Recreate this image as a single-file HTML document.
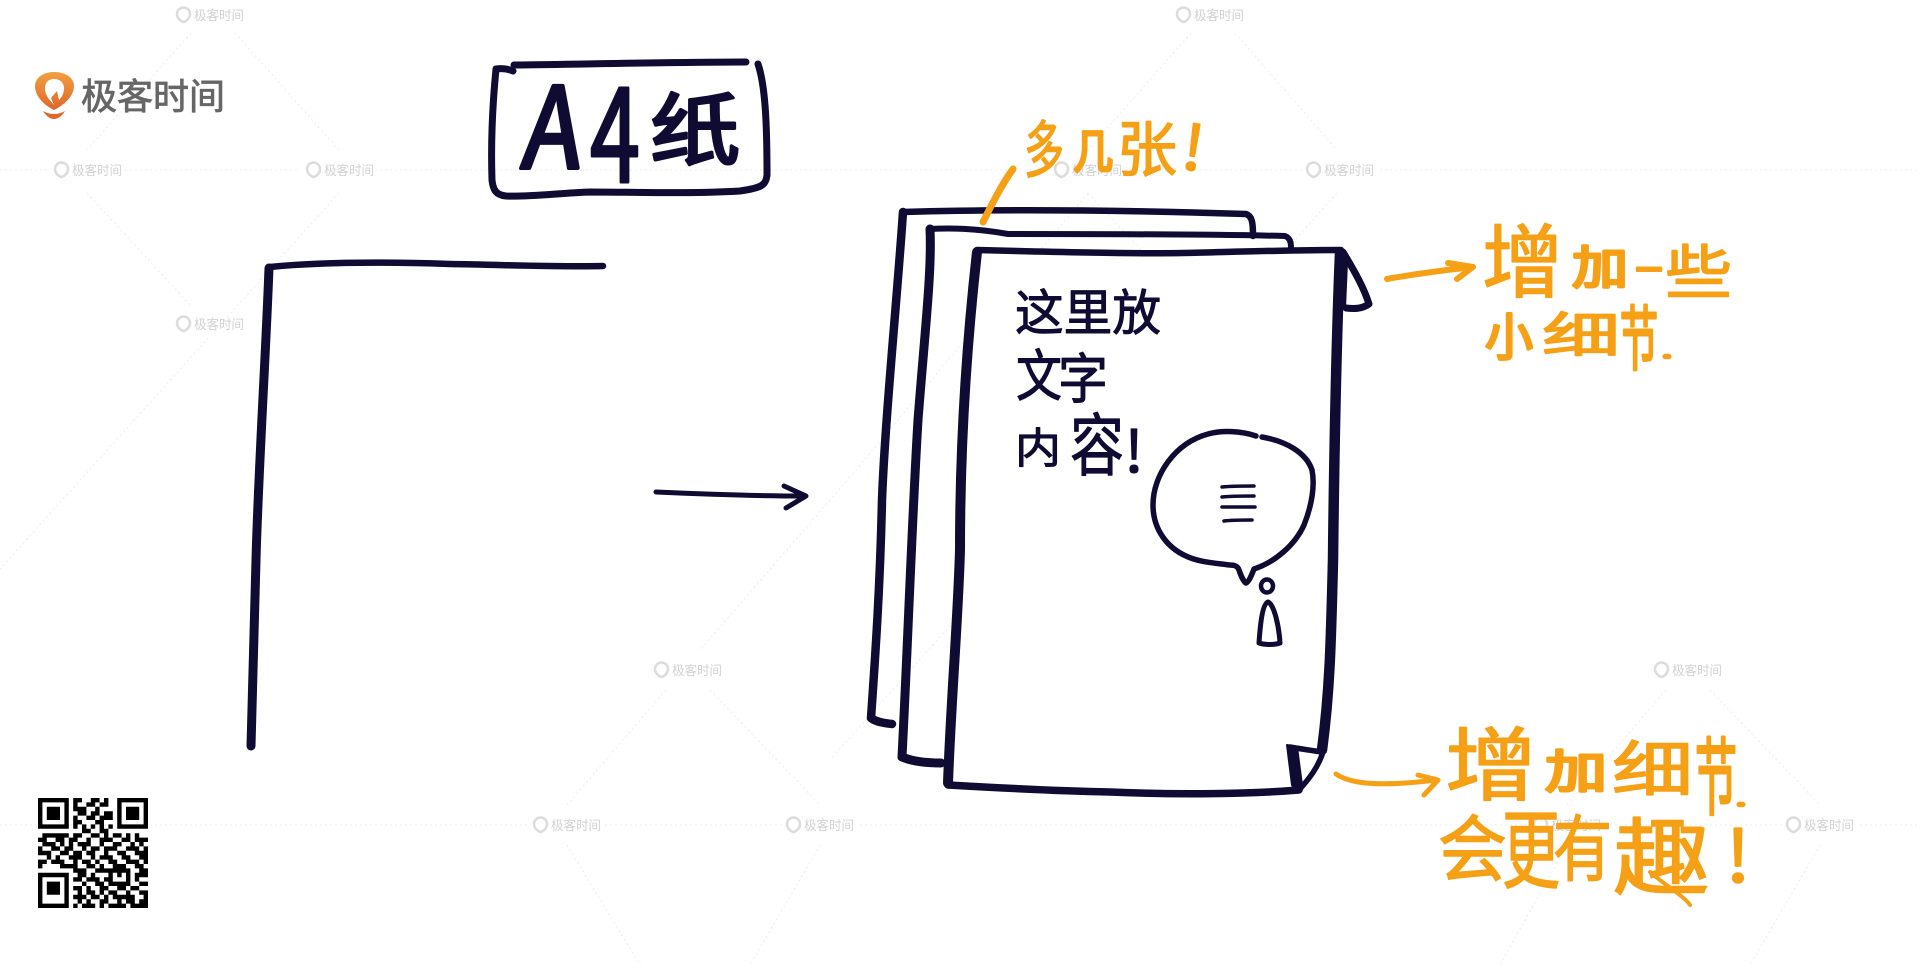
<!DOCTYPE html>
<html lang="zh">
<head>
<meta charset="utf-8">
<title>A4纸</title>
<style>
html,body{margin:0;padding:0;background:#fff;width:1920px;height:965px;overflow:hidden}
svg{display:block}
text{font-family:"Noto Sans CJK SC","WenQuanYi Zen Hei",sans-serif}
.n{fill:#0f0b33;stroke:#0f0b33;stroke-linejoin:round;stroke-linecap:round}
.o{fill:#f5a015;stroke:#f5a015;stroke-width:1.500;stroke-linejoin:round;stroke-linecap:round}
.s{stroke-width:3}
.l{fill:none;stroke:#0f0b33;stroke-linecap:round;stroke-linejoin:round}
.a{fill:none;stroke:#f5a015;stroke-linecap:round;stroke-linejoin:round}
.w{fill:#d2d2d2;font-size:13px}
.wi{fill:none;stroke:#dcdcdc;stroke-width:2.5}
.d{fill:none;stroke:#ececec;stroke-width:1;stroke-dasharray:2 3}
</style>
</head>
<body>
<svg width="1920" height="965" viewBox="0 0 1920 965" xmlns="http://www.w3.org/2000/svg">
<defs>
<linearGradient id="lg" x1="0" y1="0" x2="0" y2="1"><stop offset="0" stop-color="#f0a040"/><stop offset="1" stop-color="#e0662a"/></linearGradient>
</defs>
<rect width="1920" height="965" fill="#fff"/>

<!-- background dotted pattern -->
<path class="d" d="M0 170H50M125 170H297M375 170H1050M1125 170H1302M1380 170H1920M0 825H530M605 825H782M860 825H1530M1605 825H1782M1860 825H1920"/>
<path class="d" d="M191 33L87 150M235 33L339 150M87 193L190 305M339 193L0 569M1191 33L1088 150M1235 33L1337 150M1088 193L1190 303M1337 193L830 760M1088 193L850 477M850 477L700 650M666 690L567 805M710 690L820 805M1666 690L1567 805M1710 690L1820 805M1567 845L1500 965M1820 845L1750 965M567 845L640 965M820 845L750 965"/>

<!-- watermarks -->
<g id="wm">
<g transform="translate(176,7)"><path class="wi" d="M7 15C3 13 1 10 1 7A6.500 6.500 0 0 1 14 7C14 10 12 13 8 15Z"/><text class="w" x="18" y="13" textLength="50" lengthAdjust="spacingAndGlyphs">极客时间</text></g>
<g transform="translate(1176,7)"><path class="wi" d="M7 15C3 13 1 10 1 7A6.500 6.500 0 0 1 14 7C14 10 12 13 8 15Z"/><text class="w" x="18" y="13" textLength="50" lengthAdjust="spacingAndGlyphs">极客时间</text></g>
<g transform="translate(54,162)"><path class="wi" d="M7 15C3 13 1 10 1 7A6.500 6.500 0 0 1 14 7C14 10 12 13 8 15Z"/><text class="w" x="18" y="13" textLength="50" lengthAdjust="spacingAndGlyphs">极客时间</text></g>
<g transform="translate(306,162)"><path class="wi" d="M7 15C3 13 1 10 1 7A6.500 6.500 0 0 1 14 7C14 10 12 13 8 15Z"/><text class="w" x="18" y="13" textLength="50" lengthAdjust="spacingAndGlyphs">极客时间</text></g>
<g transform="translate(1054,162)"><path class="wi" d="M7 15C3 13 1 10 1 7A6.500 6.500 0 0 1 14 7C14 10 12 13 8 15Z"/><text class="w" x="18" y="13" textLength="50" lengthAdjust="spacingAndGlyphs">极客时间</text></g>
<g transform="translate(1306,162)"><path class="wi" d="M7 15C3 13 1 10 1 7A6.500 6.500 0 0 1 14 7C14 10 12 13 8 15Z"/><text class="w" x="18" y="13" textLength="50" lengthAdjust="spacingAndGlyphs">极客时间</text></g>
<g transform="translate(176,316)"><path class="wi" d="M7 15C3 13 1 10 1 7A6.500 6.500 0 0 1 14 7C14 10 12 13 8 15Z"/><text class="w" x="18" y="13" textLength="50" lengthAdjust="spacingAndGlyphs">极客时间</text></g>
<g transform="translate(1176,316)"><path class="wi" d="M7 15C3 13 1 10 1 7A6.500 6.500 0 0 1 14 7C14 10 12 13 8 15Z"/><text class="w" x="18" y="13" textLength="50" lengthAdjust="spacingAndGlyphs">极客时间</text></g>
<g transform="translate(654,662)"><path class="wi" d="M7 15C3 13 1 10 1 7A6.500 6.500 0 0 1 14 7C14 10 12 13 8 15Z"/><text class="w" x="18" y="13" textLength="50" lengthAdjust="spacingAndGlyphs">极客时间</text></g>
<g transform="translate(1654,662)"><path class="wi" d="M7 15C3 13 1 10 1 7A6.500 6.500 0 0 1 14 7C14 10 12 13 8 15Z"/><text class="w" x="18" y="13" textLength="50" lengthAdjust="spacingAndGlyphs">极客时间</text></g>
<g transform="translate(533,817)"><path class="wi" d="M7 15C3 13 1 10 1 7A6.500 6.500 0 0 1 14 7C14 10 12 13 8 15Z"/><text class="w" x="18" y="13" textLength="50" lengthAdjust="spacingAndGlyphs">极客时间</text></g>
<g transform="translate(786,817)"><path class="wi" d="M7 15C3 13 1 10 1 7A6.500 6.500 0 0 1 14 7C14 10 12 13 8 15Z"/><text class="w" x="18" y="13" textLength="50" lengthAdjust="spacingAndGlyphs">极客时间</text></g>
<g transform="translate(1533,817)"><path class="wi" d="M7 15C3 13 1 10 1 7A6.500 6.500 0 0 1 14 7C14 10 12 13 8 15Z"/><text class="w" x="18" y="13" textLength="50" lengthAdjust="spacingAndGlyphs">极客时间</text></g>
<g transform="translate(1786,817)"><path class="wi" d="M7 15C3 13 1 10 1 7A6.500 6.500 0 0 1 14 7C14 10 12 13 8 15Z"/><text class="w" x="18" y="13" textLength="50" lengthAdjust="spacingAndGlyphs">极客时间</text></g>
</g>

<!-- logo -->
<path d="M54 110C42 104 35 95 35 86C35 78 43 72 54 72C66 72 74 78 74 86C74 95 66 104 54 110Z" fill="url(#lg)"/>
<path d="M54 105C50 100 45 96 45 88C45 82 49 79 54 79C60 79 64 83 64 88C64 93 62 97 59 100L57 91L51 98L54 105Z" fill="#fff"/>
<path d="M43 111Q54 117 65 111Q60 119 54 119Q48 119 43 111Z" fill="#e0662a"/>
<text x="81" y="109" font-size="36" fill="#666" stroke="#666" stroke-width=".8" textLength="144" lengthAdjust="spacingAndGlyphs">极客时间</text>

<!-- A4 box -->
<path class="l" stroke-width="7" d="M514 65C590 64 680 62 746 62M758 64C765 85 767 120 767 175C766 186 760 188 740 191C690 194 630 192 590 192C560 193 530 197 506 196C496 195 493 190 492 180C491 150 492 110 496 69C502 68 508 69 513 71"/>
<text class="n" stroke-width="4" x="520" y="168" font-size="112" textLength="58" lengthAdjust="spacingAndGlyphs" transform="skewX(-6) translate(18,0)">A</text>
<text class="n" stroke-width="3" x="590" y="182" font-size="128" textLength="50" lengthAdjust="spacingAndGlyphs">4</text>
<text class="n" stroke-width="3" x="650" y="158" font-size="78" textLength="90" lengthAdjust="spacingAndGlyphs">纸</text>

<!-- left blank sheet -->
<path class="l" stroke-width="6.500" d="M603 266C560 267 510 265 450 264C390 262 320 262 270 267"/>
<path class="l" stroke-width="9" d="M269 268C266 350 258 480 256 560C254 630 252 700 251 746"/>

<!-- arrow -->
<path class="l" stroke-width="5" d="M656 492C700 494 750 496 804 496M784 486L806 496L786 508"/>

<!-- back sheet -->
<path class="l" stroke-width="6.500" d="M903 212C1000 209 1120 210 1246 214C1252 216 1253 222 1253 236"/>
<path class="l" stroke-width="8.500" d="M903 212C897 300 885 420 882 500C880 590 875 660 871 718C876 722 884 723 892 724"/>
<!-- middle sheet -->
<path class="l" stroke-width="6" d="M929 229C950 228 975 228 1008 234C1100 234 1200 234 1285 236C1290 238 1291 242 1291 248"/>
<path class="l" stroke-width="9" d="M930 229C932 270 925 330 918 420C912 520 908 640 902 757C914 762 928 763 941 763"/>

<!-- front sheet -->
<path d="M977 250C1100 254 1250 253 1341 250C1338 400 1334 600 1323 752L1299 791C1180 795 1060 790 948 785C952 600 960 400 977 250Z" fill="#fff"/>
<path class="l" stroke-width="6.500" d="M977 250C1050 252 1130 254 1183 253C1230 252 1290 250 1341 250"/>
<path class="l" stroke-width="10" d="M977 252C966 350 960 450 960 550C958 620 951 700 948 783"/>
<path class="l" stroke-width="7.500" d="M948 785C1000 788 1060 791 1110 792C1180 795 1250 794 1299 790"/>
<path class="l" stroke-width="10.500" d="M1340 253C1336 350 1334 470 1333 560C1331 640 1330 690 1322 750"/>
<path class="l" stroke-width="7" d="M1343 252C1355 272 1364 288 1369 304C1362 309 1354 309 1346 308"/>
<path d="M1338 252L1348 262L1346 308L1336 300Z" fill="#0f0b33"/>
<path class="l" stroke-width="5.500" d="M1290 747C1302 749 1314 751 1323 752C1318 768 1308 780 1299 790"/>
<path d="M1287 745L1297 747L1302 785L1296 792L1292 785Z" fill="#0f0b33" stroke="#0f0b33" stroke-width="2" stroke-linejoin="round"/>

<!-- sheet text -->
<text class="n" stroke-width="1" x="1015" y="330" font-size="49" textLength="146" lengthAdjust="spacingAndGlyphs">这里放</text>
<text class="n" stroke-width="1" x="1016" y="396" font-size="56" textLength="46" lengthAdjust="spacingAndGlyphs">文</text>
<text class="n" stroke-width="1" x="1058" y="398" font-size="54" textLength="50" lengthAdjust="spacingAndGlyphs">字</text>
<text class="n" stroke-width="1" x="1015" y="463" font-size="42" textLength="46" lengthAdjust="spacingAndGlyphs">内</text>
<text class="n" stroke-width="1" x="1070" y="470" font-size="68" textLength="54" lengthAdjust="spacingAndGlyphs">容</text>
<text class="n" stroke-width="1" x="1124" y="472" font-size="58" textLength="20" lengthAdjust="spacingAndGlyphs">!</text>

<!-- speech bubble -->
<path class="l" stroke-width="5.500" d="M1256 436C1242 431 1222 430 1208 434C1175 443 1153 475 1153 505C1153 530 1168 548 1186 556C1198 562 1215 563 1230 565C1236 565 1238 567 1239 570C1241 576 1244 582 1246 583C1249 582 1252 574 1254 569C1275 562 1295 545 1304 525C1312 505 1315 485 1312 470C1306 452 1285 441 1262 437"/>
<path class="l" stroke-width="3.500" d="M1222 487C1232 486 1244 486 1254 486M1222 497C1232 496 1244 496 1254 496M1222 507C1232 507 1244 507 1255 507M1224 521C1232 520 1242 520 1252 520"/>
<ellipse class="l" stroke-width="4.500" cx="1267" cy="586" rx="6" ry="6.500"/>
<path class="l" stroke-width="5" d="M1268 602C1262 604 1260 628 1259 643C1265 645 1274 645 1280 643C1279 626 1274 604 1268 602Z"/>

<!-- top label -->
<path class="a" stroke-width="7" d="M1013 169C1002 184 992 204 983 222"/>
<text class="o" x="1024" y="172" font-size="62" textLength="40" lengthAdjust="spacingAndGlyphs">多</text>
<text class="o s" x="1073" y="168" font-size="46" textLength="40" lengthAdjust="spacingAndGlyphs">几</text>
<text class="o" x="1117" y="171" font-size="60" textLength="60" lengthAdjust="spacingAndGlyphs">张</text>
<text class="o" x="1182" y="170" font-size="62" textLength="22" lengthAdjust="spacingAndGlyphs" transform="rotate(8 1193 150)">!</text>

<!-- right top label -->
<path class="a" stroke-width="6" d="M1387 279C1415 274 1445 270 1473 267M1448 263L1473 267L1457 279"/>
<text class="o" x="1482" y="291" font-size="80" textLength="81" lengthAdjust="spacingAndGlyphs">增</text>
<text class="o s" x="1572" y="284" font-size="46" textLength="56" lengthAdjust="spacingAndGlyphs">加</text>
<text class="o s" x="1636" y="281" font-size="30" textLength="26" lengthAdjust="spacingAndGlyphs">一</text>
<text class="o" x="1665" y="293" font-size="58" textLength="67" lengthAdjust="spacingAndGlyphs">些</text>
<text class="o s" x="1485" y="355" font-size="50" textLength="48" lengthAdjust="spacingAndGlyphs">小</text>
<text class="o" x="1542" y="352" font-size="48" textLength="78" lengthAdjust="spacingAndGlyphs">细</text>
<text class="o s" x="1620" y="364" font-size="70" textLength="38" lengthAdjust="spacingAndGlyphs">节</text>
<text class="o" x="1660" y="358" font-size="30" textLength="14" lengthAdjust="spacingAndGlyphs">.</text>

<!-- right bottom label -->
<path class="a" stroke-width="5" d="M1336 774C1350 784 1380 787 1436 780M1418 775L1438 780L1424 795"/>
<text class="o" x="1445" y="794" font-size="80" textLength="92" lengthAdjust="spacingAndGlyphs">增</text>
<text class="o s" x="1545" y="788" font-size="46" textLength="62" lengthAdjust="spacingAndGlyphs">加</text>
<text class="o" x="1612" y="791" font-size="60" textLength="81" lengthAdjust="spacingAndGlyphs">细</text>
<text class="o s" x="1695" y="808" font-size="84" textLength="42" lengthAdjust="spacingAndGlyphs">节</text>
<text class="o" x="1734" y="806" font-size="30" textLength="14" lengthAdjust="spacingAndGlyphs">.</text>
<text class="o" x="1438" y="875" font-size="72" textLength="69" lengthAdjust="spacingAndGlyphs">会</text>
<text class="o" x="1502" y="881" font-size="86" textLength="58" lengthAdjust="spacingAndGlyphs">更</text>
<text class="o" x="1553" y="875" font-size="72" textLength="59" lengthAdjust="spacingAndGlyphs">有</text>
<text class="o" x="1613" y="888" font-size="84" textLength="97" lengthAdjust="spacingAndGlyphs">趣</text>
<text class="o" x="1725" y="882" font-size="72" textLength="26" lengthAdjust="spacingAndGlyphs">!</text>
<path class="a" stroke-width="4" d="M1650 872C1665 885 1685 897 1690 905"/>

<!-- QR code -->
<g transform="translate(38,798) scale(4.400)" fill="none" stroke="#000" stroke-width="1">
<path d="M0 .5h7M8 .5h2M12 .5h2M15 .5h1M18 .5h7
M0 1.500h1M6 1.500h1M8 1.500h1M11 1.500h2M14 1.500h2M18 1.500h1M24 1.500h1
M0 2.500h1M2 2.500h3M6 2.500h1M8 2.500h3M13 2.500h1M18 2.500h1M20 2.500h3M24 2.500h1
M0 3.500h1M2 3.500h3M6 3.500h1M9 3.500h2M12 3.500h2M15 3.500h2M18 3.500h1M20 3.500h3M24 3.500h1
M0 4.500h1M2 4.500h3M6 4.500h1M8 4.500h1M11 4.500h2M14 4.500h3M18 4.500h1M20 4.500h3M24 4.500h1
M0 5.500h1M6 5.500h1M8 5.500h2M13 5.500h2M18 5.500h1M24 5.500h1
M0 6.500h7M8 6.500h1M10 6.500h1M12 6.500h1M14 6.500h1M16 6.500h1M18 6.500h7
M10 7.500h2M14 7.500h2
M1 8.500h6M8 8.500h2M12 8.500h2M15 8.500h1M17 8.500h2M20 8.500h1M22 8.500h1
M0 9.500h2M4 9.500h2M7 9.500h2M11 9.500h1M14 9.500h3M19 9.500h2M22 9.500h3
M1 10.500h3M5 10.500h1M7 10.500h1M9 10.500h3M14 10.500h1M17 10.500h2M21 10.500h1M23 10.500h1
M0 11.500h1M3 11.500h2M6 11.500h2M10 11.500h1M12 11.500h2M15 11.500h3M20 11.500h3M24 11.500h1
M0 12.500h3M5 12.500h2M8 12.500h2M11 12.500h2M15 12.500h1M18 12.500h2M22 12.500h3
M2 13.500h1M4 13.500h1M7 13.500h3M12 13.500h1M14 13.500h3M19 13.500h2M23 13.500h2
M0 14.500h2M3 14.500h3M8 14.500h1M10 14.500h2M13 14.500h1M16 14.500h2M20 14.500h3M24 14.500h1
M0 15.500h1M5 15.500h4M11 15.500h2M14 15.500h1M17 15.500h3M22 15.500h2
M8 16.500h3M13 16.500h8M23 16.500h2
M0 17.500h7M9 17.500h2M12 17.500h1M16 17.500h1M18 17.500h1M20 17.500h1M22 17.500h3
M0 18.500h1M6 18.500h1M8 18.500h2M11 18.500h3M15 18.500h2M20 18.500h1M22 18.500h1
M0 19.500h1M2 19.500h3M6 19.500h1M10 19.500h1M13 19.500h2M16 19.500h5M23 19.500h2
M0 20.500h1M2 20.500h3M6 20.500h1M8 20.500h2M11 20.500h1M14 20.500h2M18 20.500h2M21 20.500h2
M0 21.500h1M2 21.500h3M6 21.500h1M9 21.500h1M11 21.500h2M14 21.500h1M16 21.500h2M20 21.500h1M23 21.500h2
M0 22.500h1M6 22.500h1M8 22.500h3M12 22.500h2M15 22.500h1M17 22.500h5M24 22.500h1
M0 23.500h1M6 23.500h1M9 23.500h1M11 23.500h1M14 23.500h2M18 23.500h1M20 23.500h2M23 23.500h2
M0 24.500h7M8 24.500h1M10 24.500h3M14 24.500h1M16 24.500h4M21 24.500h4"/>
</g>
</svg>
</body>
</html>
